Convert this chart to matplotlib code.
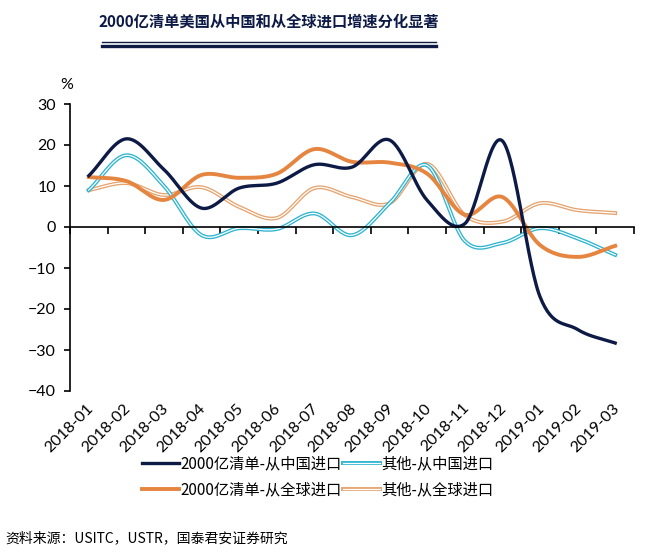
import numpy as np
import matplotlib.pyplot as plt
from matplotlib.lines import Line2D
import matplotlib.patheffects as pe

months = ['2018-01', '2018-02', '2018-03', '2018-04', '2018-05', '2018-06', '2018-07',
          '2018-08', '2018-09', '2018-10', '2018-11', '2018-12', '2019-01', '2019-02', '2019-03']

list_cn = [12.5, 21.5, 14.0, 4.6, 9.5, 10.7, 15.2, 14.6, 21.2, 6.5, 0.8, 21.0, -17.0, -25.0, -28.3]
other_cn = [9.0, 17.5, 10.0, -2.0, -0.3, -0.5, 3.3, -2.0, 5.8, 15.0, -3.4, -3.9, -0.3, -2.8, -6.8]
list_world = [12.2, 11.2, 6.6, 12.7, 12.0, 13.0, 19.0, 15.9, 15.7, 13.0, 3.0, 7.3, -4.4, -7.3, -4.6]
other_world = [9.0, 10.7, 7.8, 9.7, 4.9, 2.2, 9.5, 7.3, 5.8, 15.4, 2.9, 1.3, 5.8, 4.1, 3.4]

names = ['2000亿清单-从中国进口', '其他-从中国进口', '2000亿清单-从全球进口', '其他-从全球进口']

navy = '#0c1a45'
cyan = '#2fb4d0'
orange = '#e58540'
peach = '#e6a470'

cjk = ['Noto Sans CJK SC', 'DejaVu Sans']
latin = 'Lato'


def smooth(y, n=30):
    # catmull-rom curve like excel's smoothed line
    y = np.asarray(y, float)
    x = np.arange(len(y), dtype=float)
    m = np.zeros_like(y)
    m[1:-1] = (y[2:] - y[:-2]) / 2
    m[0] = y[1] - y[0]
    m[-1] = y[-1] - y[-2]
    xs, ys = [], []
    for i in range(len(y) - 1):
        t = np.linspace(0, 1, n, endpoint=False)
        h00 = 2*t**3 - 3*t**2 + 1
        h10 = t**3 - 2*t**2 + t
        h01 = -2*t**3 + 3*t**2
        h11 = t**3 - t**2
        xs.append(x[i] + t)
        ys.append(h00*y[i] + h10*m[i] + h01*y[i+1] + h11*m[i+1])
    xs.append([x[-1]])
    ys.append([y[-1]])
    return np.concatenate(xs), np.concatenate(ys)


def double(c):
    return [pe.Stroke(linewidth=2.8, foreground=c), pe.Normal()]


fig = plt.figure(figsize=(6.58, 5.55), dpi=100)
ax = fig.add_axes([70/658, 1-391/555, 564/658, 287/555])

x1, y1 = smooth(list_cn)
x2, y2 = smooth(other_cn)
x3, y3 = smooth(list_world)
x4, y4 = smooth(other_world)

l4, = ax.plot(x4, y4, color='white', lw=0.9, path_effects=double(peach))
l2, = ax.plot(x2, y2, color='white', lw=0.9, path_effects=double(cyan))
l3, = ax.plot(x3, y3, color=orange, lw=2.8)
l1, = ax.plot(x1, y1, color=navy, lw=2.4)

ax.set_xlim(-0.5, 14.5)
ax.set_ylim(-40, 30)
ax.set_yticks(range(-40, 31, 10))
ax.set_xticks(np.arange(-0.5, 14.6, 1))
ax.set_xticklabels([])
ax.spines['bottom'].set_position(('data', 0))
ax.spines['top'].set_visible(False)
ax.spines['right'].set_visible(False)
ax.spines['left'].set_linewidth(1.2)
ax.spines['bottom'].set_linewidth(1.2)
ax.tick_params(axis='x', direction='out', length=5, width=1.2)
ax.tick_params(axis='y', direction='out', length=4, width=1.2, pad=6, labelsize=11.5)
for lab in ax.get_yticklabels():
    lab.set_family(latin)

for i, m in enumerate(months):
    ax.annotate(m, xy=(i + 0.05, 0), xycoords=('data', 'axes fraction'),
                xytext=(0, -15), textcoords='offset pixels',
                rotation=45, rotation_mode='anchor', ha='right', va='center',
                fontsize=11.5, family=latin)

fig.text(67/658, 1-85/555, '%', fontsize=11.5, family=latin, ha='center', va='center')

fig.text(269/658, 1-22/555, '2000亿清单美国从中国和从全球进口增速分化显著',
         fontsize=11, fontweight='heavy', color=navy, family=cjk, ha='center', va='center')
fig.add_artist(Line2D([102/658, 436/658], [1-41.5/555, 1-41.5/555], color=navy, lw=1.0))
fig.add_artist(Line2D([102/658, 436/658], [1-46/555, 1-46/555], color=navy, lw=2.4))

handles = [l1, l3, l2, l4]
labels = [names[0], names[2], names[1], names[3]]
fig.legend(handles, labels, ncol=2, loc='center', bbox_to_anchor=(318/658, 1-477/555),
           frameon=False, handlelength=2.4, handletextpad=0.1, columnspacing=0.1,
           labelspacing=0.55, prop={'family': cjk, 'size': 11})

fig.text(5/658, 1-538/555, '资料来源：USITC，USTR，国泰君安证券研究', fontsize=10,
         family=cjk, ha='left', va='center')

fig.savefig('out.png', dpi=100)
